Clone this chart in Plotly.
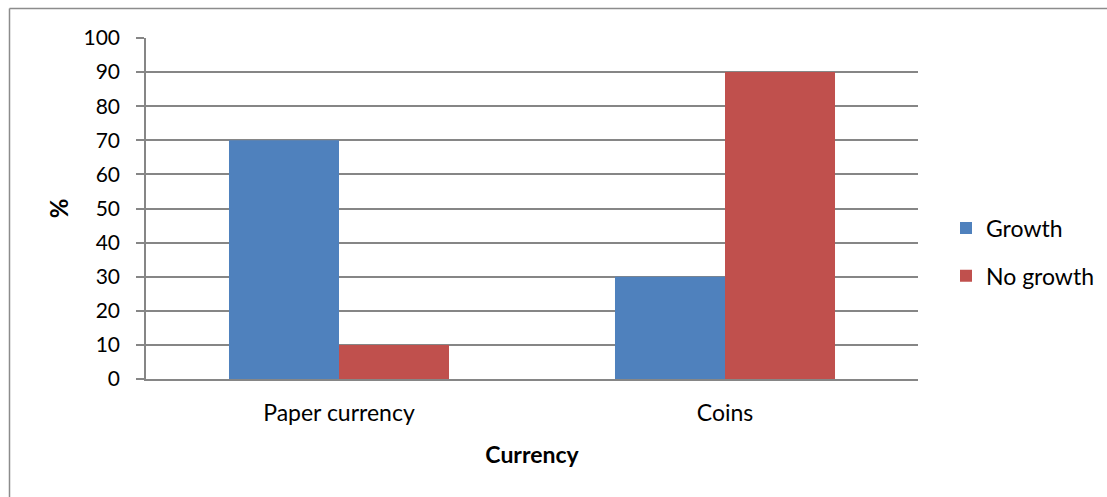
import plotly.graph_objects as go

categories = ["Paper currency", "Coins"]
growth = [70, 30]
no_growth = [10, 90]
y_ticks = [0, 10, 20, 30, 40, 50, 60, 70, 80, 90, 100]

FONT = "Lato"
W, H = 1107, 497
L, R, T, B = 146, 189, 38, 118
pw, ph = W - L - R, H - T - B

fig = go.Figure()
fig.add_trace(go.Bar(name="Growth", x=categories, y=growth, marker=dict(color="#4F81BD", line=dict(width=0)), legendgroup="g"))
fig.add_trace(go.Bar(name="No growth", x=categories, y=no_growth, marker=dict(color="#C0504D", line=dict(width=0)), legendgroup="n"))

def px(x):
    return (x - L) / pw

def py(y):
    return (H - B - y) / ph

fig.update_layout(
    width=W, height=H,
    margin=dict(l=L, r=R, t=T, b=B, autoexpand=False),
    paper_bgcolor="white", plot_bgcolor="white",
    barmode="group", bargap=0.43, bargroupgap=0,
    font=dict(family=FONT, size=20, color="black"),
    xaxis=dict(
        showgrid=False, showline=True, linecolor="#868686", linewidth=1.5,
        ticks="", tickfont=dict(size=23), ticklabelstandoff=13,
        title=dict(text="<b>Currency</b>", font=dict(size=23), standoff=22),
    ),
    yaxis=dict(
        range=[0, 100], tickvals=y_ticks, showgrid=True, gridcolor="#868686", gridwidth=1.5,
        showline=True, linecolor="#868686", linewidth=1.5,
        ticks="outside", ticklen=8, tickcolor="#868686", tickwidth=1.5,
        tickfont=dict(size=21), zeroline=False, ticklabelstandoff=12,
        title=dict(text="<b>%</b>", font=dict(size=24), standoff=8),
    ),
    legend=dict(
        x=px(946), y=py(252), xanchor="left", yanchor="middle",
        font=dict(size=23), tracegroupgap=15, itemwidth=30,
        bgcolor="rgba(0,0,0,0)",
    ),
    shapes=[
        dict(type="line", xref="paper", yref="paper", x0=px(9.5), x1=px(9.5), y0=py(8.5), y1=py(510),
             line=dict(color="#8C8C8C", width=1.5)),
        dict(type="line", xref="paper", yref="paper", x0=px(9.5), x1=px(1120), y0=py(8.5), y1=py(8.5),
             line=dict(color="#8C8C8C", width=1.5)),
    ],
)

fig.write_html(
    "out.html",
    config={"displayModeBar": False},
    post_script="document.body.style.margin='0';document.body.style.overflow='hidden';",
)
